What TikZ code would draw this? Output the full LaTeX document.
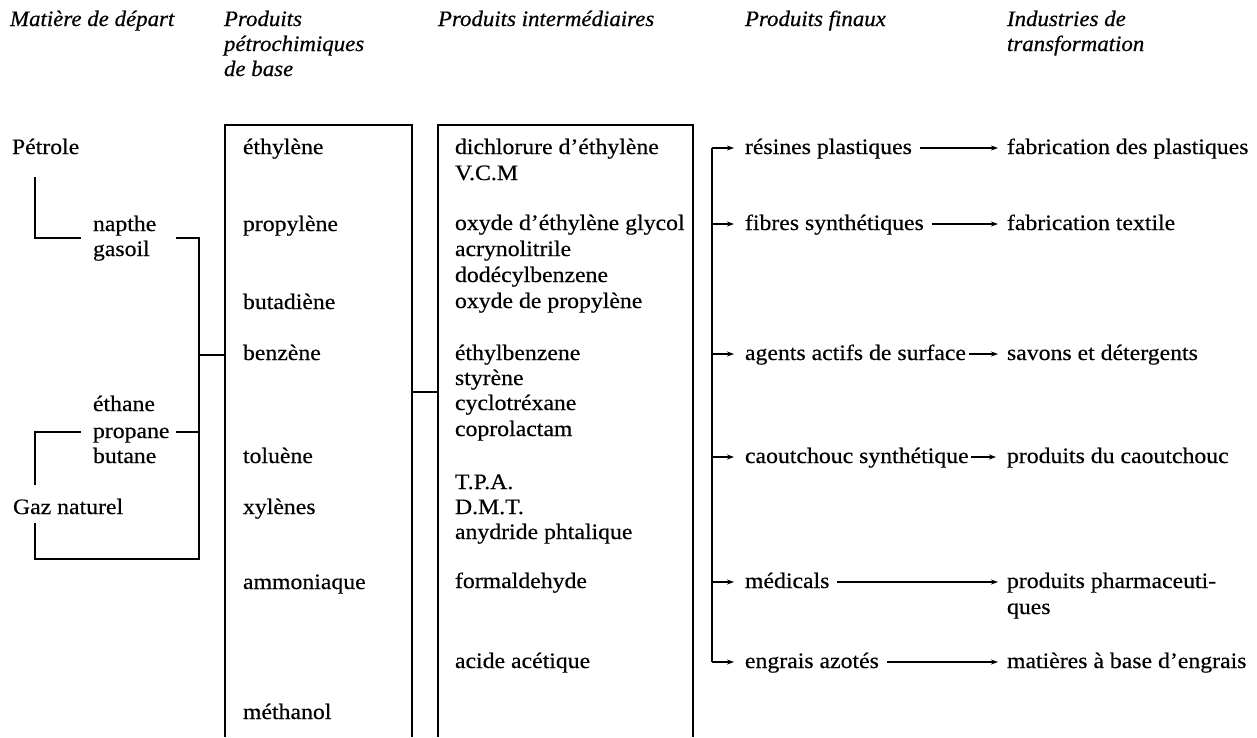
\documentclass[tikz,border=0pt]{standalone}
\usepackage{fontspec}
\setmainfont[FakeStretch=1.08,FakeBold=0.4]{Liberation Serif}
\newfontfamily\hdrfont[FakeStretch=1.04,FakeBold=0.5]{Liberation Serif}
\usetikzlibrary{arrows.meta,calc}
\begin{document}
\begin{tikzpicture}[x=1pt,y=-1pt,
  every node/.style={inner sep=0pt,outer sep=0pt,anchor=base west,font=\fontsize{22}{26}\selectfont},
  hdr/.style={font=\hdrfont\itshape\fontsize{22}{26}\selectfont},
  ln/.style={line width=1.6pt},
  arr/.style={line width=1.6pt,-{Stealth[length=7pt,width=5pt]}}]
\path[fill=white,use as bounding box] (0,0) rectangle (1257,737);

% headers
\node[hdr] (h1) at (10,26) {Matière de départ};
\node[hdr] (h2a) at (224,26) {Produits};
\node[hdr] (h2b) at (224,51) {pétrochimiques};
\node[hdr] (h2c) at (224,76) {de base};
\node[hdr] (h3) at (438,26) {Produits intermédiaires};
\node[hdr] (h4) at (745,26) {Produits finaux};
\node[hdr] (h5a) at (1007,26) {Industries de};
\node[hdr] (h5b) at (1007,51) {transformation};

% raw materials
\node (pet) at (12,154) {Pétrole};
\node (nap) at (93,231) {napthe};
\node (gas) at (93,256) {gasoil};
\node (eth) at (93,411) {éthane};
\node (pro) at (93,438) {propane};
\node (but) at (93,463) {butane};
\node (gaz) at (13,514) {Gaz naturel};

% basic products
\node (b1) at (243,154) {éthylène};
\node (b2) at (243,231) {propylène};
\node (b3) at (243,309) {butadiène};
\node (b4) at (243,360) {benzène};
\node (b5) at (243,463) {toluène};
\node (b6) at (243,514) {xylènes};
\node (b7) at (243,589) {ammoniaque};
\node (b8) at (243,719) {méthanol};

% intermediate products
\node (i1) at (455,154) {dichlorure d’éthylène};
\node (i2) at (455,180) {V.C.M};
\node (i3) at (455,230) {oxyde d’éthylène glycol};
\node (i4) at (455,256) {acrynolitrile};
\node (i5) at (455,282) {dodécylbenzene};
\node (i6) at (455,308) {oxyde de propylène};
\node (i7) at (455,360) {éthylbenzene};
\node (i8) at (455,385) {styrène};
\node (i9) at (455,410) {cyclotréxane};
\node (i10) at (455,436) {coprolactam};
\node (i11) at (455,489) {T.P.A.};
\node (i12) at (455,514) {D.M.T.};
\node (i13) at (455,539) {anydride phtalique};
\node (i14) at (455,588) {formaldehyde};
\node (i15) at (455,668) {acide acétique};

% final products
\node (f1) at (745,154) {résines plastiques};
\node (f2) at (745,230) {fibres synthétiques};
\node (f3) at (745,360) {agents actifs de surface};
\node (f4) at (745,463) {caoutchouc synthétique};
\node (f5) at (745,588) {médicals};
\node (f6) at (745,668) {engrais azotés};

% industries
\node (t1) at (1007,154) {fabrication des plastiques};
\node (t2) at (1007,230) {fabrication textile};
\node (t3) at (1007,360) {savons et détergents};
\node (t4) at (1007,463) {produits du caoutchouc};
\node (t5) at (1007,588) {produits pharmaceuti-};
\node (t5b) at (1007,614) {ques};
\node (t6) at (1007,668) {matières à base d’engrais};

% left tree
\coordinate (pA) at (35,177);
\coordinate (pB) at (35,238);
\coordinate (pC) at (81,238);
\coordinate (nA) at (176,238);
\coordinate (nB) at (199,238);
\coordinate (jB) at (199,559);
\coordinate (gB) at (35,559);
\coordinate (gA) at (35,523);
\coordinate (gT) at (35,485);
\coordinate (gU) at (35,432);
\coordinate (gV) at (81,432);
\coordinate (prA) at (176,432);
\coordinate (prB) at (199,432);
\coordinate (jA) at (199,355);
\coordinate (jC) at (225,355);
\draw[ln] (pA) -- (pB) -- (pC);
\draw[ln] (nA) -- (nB) -- (jB) -- (gB) -- (gA);
\draw[ln] (gT) -- (gU) -- (gV);
\draw[ln] (prA) -- (prB);
\draw[ln] (jA) -- (jC);

% boxes
\coordinate (bx1) at (225,737);
\coordinate (bx2) at (225,125);
\coordinate (bx3) at (412,125);
\coordinate (bx4) at (412,737);
\draw[ln] (bx1) -- (bx2) -- (bx3) -- (bx4);
\coordinate (ix1) at (438,737);
\coordinate (ix2) at (438,125);
\coordinate (ix3) at (693,125);
\coordinate (ix4) at (693,737);
\draw[ln] (ix1) -- (ix2) -- (ix3) -- (ix4);
\coordinate (cA) at (412,392);
\coordinate (cB) at (438,392);
\draw[ln] (cA) -- (cB);

% bus to final products
\draw[ln] ($(f1.base west)+(-33,-6)$) -- ($(f6.base west)+(-33,-6)$);
\foreach \n in {f1,f2,f3,f4,f5,f6}
  \draw[arr] ($(\n.base west)+(-33,-6)$) -- ($(\n.base west)+(-11,-6)$);

% final products to industries
\draw[arr] ($(f1.base east)+(8,-6)$) -- ($(t1.base west)+(-9,-6)$);
\draw[arr] ($(f2.base east)+(8,-6)$) -- ($(t2.base west)+(-9,-6)$);
\draw[arr] ($(f3.base east)+(3,-6)$) -- ($(t3.base west)+(-9,-6)$);
\draw[arr] ($(f4.base east)+(2,-6)$) -- ($(t4.base west)+(-11,-6)$);
\draw[arr] ($(f5.base east)+(8,-6)$) -- ($(t5.base west)+(-9,-6)$);
\draw[arr] ($(f6.base east)+(8,-6)$) -- ($(t6.base west)+(-9,-6)$);
\end{tikzpicture}
\end{document}
